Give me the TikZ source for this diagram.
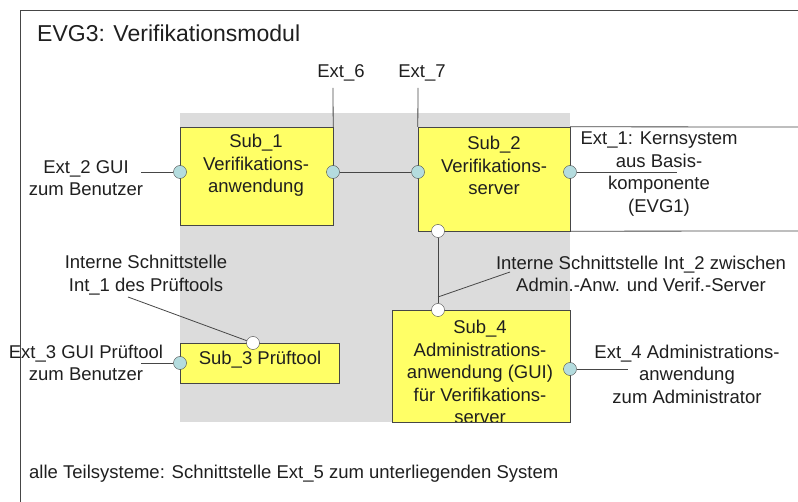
\documentclass[tikz,border=0pt]{standalone}
\usepackage{fontspec}
\setmainfont{Liberation Sans}
\usetikzlibrary{shapes.geometric, arrows}
\definecolor{subyellow}{RGB}{255,255,102}
\definecolor{portblue}{RGB}{180,220,222}
\definecolor{toegray}{RGB}{220,220,220}
\definecolor{linegray}{RGB}{70,70,70}
\tikzstyle{subsystem} = [rectangle, draw=linegray, fill=subyellow, inner sep=0pt]
\tikzstyle{note} = [align=center, inner sep=0pt, text=black!88, font=\fontsize{18.5}{22.5}\selectfont]
\tikzstyle{extport} = [circle, draw=linegray, fill=portblue, minimum size=13pt, inner sep=0pt]
\tikzstyle{intport} = [circle, draw=linegray, fill=white, minimum size=13pt, inner sep=0pt]
\tikzstyle{conn} = [draw=linegray, line width=0.8pt]

\begin{document}
\begin{tikzpicture}[x=1pt, y=-1pt]

\useasboundingbox (0,0) rectangle (798,502);

% gray area and frame
\node (toe) [fill=toegray, minimum width=390pt, minimum height=309pt, inner sep=0pt] at (375,267.5) {};
\draw [conn] (798,10) -- (20,10) -- (20,502);
\node (title) [note, anchor=west, font=\fontsize{23}{27}\selectfont] at (37,33) {EVG3: Verifikationsmodul};

% subsystems
\node (sub1) [subsystem, minimum width=153pt, minimum height=98pt] at (256.5,176) {};
\node (sub2) [subsystem, minimum width=152pt, minimum height=104pt] at (494,179) {};
\node (sub3) [subsystem, minimum width=159pt, minimum height=40pt] at (259.5,363) {};
\node (sub4) [subsystem, minimum width=178pt, minimum height=112pt] at (481,366) {};

\node (sub1txt) [note] at (256,165.5) {Sub\_1\\Verifikations-\\anwendung};
\node (sub2txt) [note] at (494,165.5) {Sub\_2\\Verifikations-\\server};
\node (sub3txt) [note] at (260,360) {Sub\_3 Prüftool};
\begin{scope}
\clip (392,310) rectangle (570,422);
\node (sub4txt) [note] at (480,372) {Sub\_4\\Administrations-\\anwendung (GUI)\\für Verifikations-\\server};
\end{scope}

% ports
\node (p1w) [extport] at (180,172) {};
\node (p1e) [extport] at (333,172) {};
\node (p2w) [extport] at (418,172) {};
\node (p2e) [extport] at (570,172) {};
\node (p2s) [intport] at (438,231) {};
\node (p3w) [extport] at (180,363) {};
\node (p3n) [intport] at (253,343) {};
\node (p4n) [intport] at (438,310) {};
\node (p4e) [extport] at (570,369) {};

% external labels
\node (ext6) [note] at (341,73) {Ext\_6};
\node (ext7) [note] at (422,73) {Ext\_7};
\node (ext2) [note] at (86,178) {Ext\_2 GUI\\zum Benutzer};
\node (ext1) [note] at (659,174) {Ext\_1: Kernsystem\\aus Basis-\\komponente\\(EVG1)};
\node (int1) [note] at (146,275) {Interne Schnittstelle\\Int\_1 des Prüftools};
\node (int2) [note] at (641,274) {Interne Schnittstelle Int\_2 zwischen\\Admin.-Anw. und Verif.-Server};
\node (ext3) [note] at (86,363) {Ext\_3 GUI Prüftool\\zum Benutzer};
\node (ext4) [note] at (687,374) {Ext\_4 Administrations-\\anwendung\\zum Administrator};
\node (ext5) [note, anchor=west] at (29,474) {alle Teilsysteme: Schnittstelle Ext\_5 zum unterliegenden System};

\coordinate (ext6end) at (333,88);
\coordinate (ext7end) at (418,88);
\coordinate (ext2end) at (141,172);
\coordinate (ext1end) at (677,172);
\coordinate (ext3end) at (141,363);
\coordinate (ext4end) at (628,369);
\coordinate (int1end) at (128,297);
\coordinate (int2end) at (510,272);
\coordinate (int2joint) at (438,297);
\coordinate (evg1top) at (798,127);
\coordinate (evg1bot) at (798,231);

% connectors
\draw [conn] (ext6end) -- (sub1.north east);
\draw [conn] (ext7end) -- (sub2.north west);
\draw [conn] (sub2.north east) -- (evg1top);
\draw [conn] (sub2.south east) -- (evg1bot);
\draw [conn] (ext2end) -- (p1w);
\draw [conn] (p1e) -- (p2w);
\draw [conn] (p2e) -- (ext1end);
\draw [conn] (p2s) -- (p4n);
\draw [conn] (int2end) -- (int2joint);
\draw [conn] (int1end) -- (p3n);
\draw [conn] (ext3end) -- (p3w);
\draw [conn] (p4e) -- (ext4end);

\end{tikzpicture}
\end{document}
